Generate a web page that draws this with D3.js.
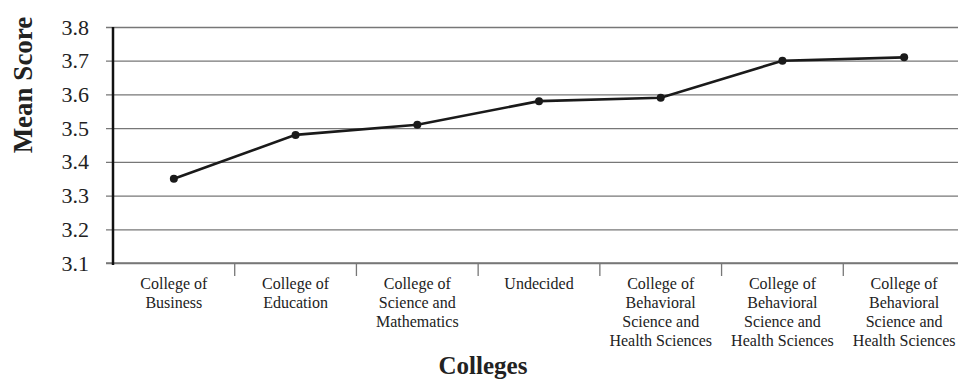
<!DOCTYPE html>
<html>
<head>
<meta charset="utf-8">
<script src="https://cdn.jsdelivr.net/npm/d3@7/dist/d3.min.js"></script>
<style>
  html, body { margin: 0; padding: 0; background: #fff; }
  svg { display: block; }
  text { font-family: "Liberation Serif", "Times New Roman", serif; fill: #222; }
</style>
</head>
<body>
<svg id="chart" width="958" height="380"></svg>
<script>
const categories = [
  "College of Business",
  "College of Education",
  "College of Science and Mathematics",
  "Undecided",
  "College of Behavioral Science and Health Sciences",
  "College of Behavioral Science and Health Sciences",
  "College of Behavioral Science and Health Sciences"
];
const categoryLines = [
  ["College of", "Business"],
  ["College of", "Education"],
  ["College of", "Science and", "Mathematics"],
  ["Undecided"],
  ["College of", "Behavioral", "Science and", "Health Sciences"],
  ["College of", "Behavioral", "Science and", "Health Sciences"],
  ["College of", "Behavioral", "Science and", "Health Sciences"]
];
const meanScores = [3.35, 3.48, 3.51, 3.58, 3.59, 3.70, 3.71];
const yTicks = [3.1, 3.2, 3.3, 3.4, 3.5, 3.6, 3.7, 3.8];
const yTitle = "Mean Score";
const xTitle = "Colleges";

const svg = d3.select("#chart");
const margin = { left: 113, top: 27, bottom: 263, right: 965 };

const x = d3.scaleBand()
  .domain(d3.range(categories.length))
  .range([margin.left, margin.right])
  .paddingInner(0).paddingOuter(0);

const y = d3.scaleLinear().domain([3.1, 3.8]).range([margin.bottom, margin.top]);

// gridlines + y tick labels
const yAxis = d3.axisLeft(y).tickValues(yTicks).tickFormat(d3.format(".1f"))
  .tickSize(-(margin.right - margin.left) - 7).tickPadding(17);
const gy = svg.append("g").attr("transform", `translate(${margin.left - 7},0)`).call(yAxis);
gy.select(".domain").remove();
gy.selectAll(".tick line").attr("stroke", "#777").attr("stroke-width", 1.3)
  .attr("x1", 0).attr("x2", margin.right - margin.left + 7);
gy.selectAll(".tick text").attr("font-size", 22).attr("fill", "#222")
  .attr("font-family", "Liberation Serif, serif").attr("x", -17);

// x axis: boundary ticks
const gx = svg.append("g").attr("transform", `translate(0,${margin.bottom})`);
gx.append("line").attr("x1", margin.left - 7).attr("x2", margin.right)
  .attr("stroke", "#777").attr("stroke-width", 1.3);
gx.selectAll("line.bt").data(d3.range(1, categories.length)).join("line")
  .attr("class", "bt")
  .attr("x1", d => x(d)).attr("x2", d => x(d))
  .attr("y1", 0).attr("y2", 13)
  .attr("stroke", "#777").attr("stroke-width", 1.3);

// x labels
const lbl = gx.selectAll("text.cl").data(categoryLines).join("text")
  .attr("class", "cl")
  .attr("text-anchor", "middle")
  .attr("font-size", 16)
  .attr("transform", (d, i) => `translate(${x(i) + x.bandwidth() / 2},26)`);
lbl.selectAll("tspan").data(d => d).join("tspan")
  .attr("x", 0).attr("dy", (d, i) => i === 0 ? 0 : 19).text(d => d);

// y axis line
svg.append("line").attr("x1", margin.left).attr("x2", margin.left)
  .attr("y1", margin.top).attr("y2", margin.bottom + 2)
  .attr("stroke", "#111").attr("stroke-width", 2.5);

// data line
const line = d3.line().x((d, i) => x(i) + x.bandwidth() / 2).y(d => y(d));
svg.append("path").datum(meanScores).attr("d", line)
  .attr("fill", "none").attr("stroke", "#1a1a1a").attr("stroke-width", 2.6);
svg.selectAll("circle.pt").data(meanScores).join("circle")
  .attr("class", "pt")
  .attr("cx", (d, i) => x(i) + x.bandwidth() / 2).attr("cy", d => y(d))
  .attr("r", 4).attr("fill", "#1a1a1a");

// titles
svg.append("text").attr("transform", "translate(32,85) rotate(-90)")
  .attr("text-anchor", "middle").attr("font-size", 27).attr("font-weight", "bold")
  .attr("fill", "#222").text(yTitle);
svg.append("text").attr("x", 483).attr("y", 374)
  .attr("text-anchor", "middle").attr("font-size", 25).attr("font-weight", "bold")
  .attr("fill", "#222").text(xTitle);
</script>
</body>
</html>
